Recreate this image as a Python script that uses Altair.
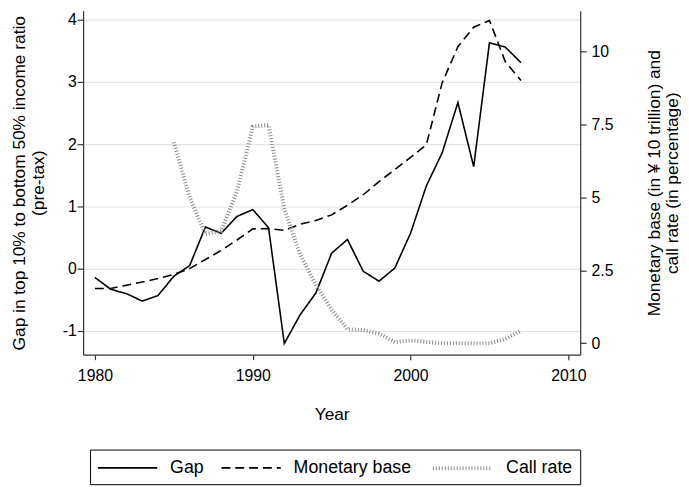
import altair as alt
import pandas as pd

years = list(range(1980, 2008))
gap = [-0.14, -0.33, -0.40, -0.52, -0.43, -0.12, 0.05, 0.67, 0.57, 0.84,
       0.95, 0.66, -1.20, -0.74, -0.39, 0.25, 0.47, -0.04, -0.20, 0.01,
       0.57, 1.33, 1.86, 2.67, 1.64, 3.63, 3.56, 3.31]
monetary_base = [1.88, 1.88, 1.99, 2.10, 2.22, 2.36, 2.56, 2.87, 3.18, 3.54,
                 3.92, 3.93, 3.87, 4.08, 4.21, 4.40, 4.73, 5.09, 5.54, 5.95,
                 6.37, 6.80, 8.92, 10.16, 10.83, 11.06, 9.65, 9.00]
call_rate = [None, None, None, None, None, 6.89, 5.00, 3.74, 3.85, 5.20,
             7.42, 7.48, 4.60, 3.05, 2.00, 1.15, 0.48, 0.45, 0.33, 0.04,
             0.10, 0.05, 0.00, 0.00, 0.00, 0.00, 0.15, 0.43]

series_order = ["Gap", "Monetary base", "Call rate"]
x_ticks = [1980, 1990, 2000, 2010]
left_ticks = [-1, 0, 1, 2, 3, 4]
right_ticks = [0, 2.5, 5, 7.5, 10]

rows = []
for i, yr in enumerate(years):
    rows.append({"year": yr, "series": "Gap", "value": gap[i]})
    rows.append({"year": yr, "series": "Monetary base", "value": monetary_base[i]})
    if call_rate[i] is not None:
        rows.append({"year": yr, "series": "Call rate", "value": call_rate[i]})
df = pd.DataFrame(rows)

FONT = "Liberation Sans"

legend = alt.Legend(
    title=None, orient="none", direction="horizontal",
    legendX=7, legendY=444,
    symbolType="M-1,0H5", symbolSize=400,
    labelFontSize=18, labelFont=FONT, labelColor="black",
    labelOffset=52, columnPadding=13, padding=7,
    strokeColor="black", fillColor="white",
)

color = alt.Color("series:N", scale=alt.Scale(domain=series_order,
                  range=["#000000", "#000000", "#8a8a8a"]), legend=legend)
dash = alt.StrokeDash("series:N", scale=alt.Scale(domain=series_order,
                      range=[[1, 0], [9, 5], [1, 2]]), legend=legend)
width = alt.StrokeWidth("series:N", scale=alt.Scale(type="ordinal", domain=series_order,
                        range=[1.6, 1.6, 4]), legend=legend)

x_enc = alt.X("year:Q", scale=alt.Scale(domain=[1979.25, 2010.75], nice=False, zero=False),
              axis=alt.Axis(values=x_ticks, format="d", grid=False, tickSize=5, labelPadding=8,
                            title="Year", titleX=251.5, titleY=66, titleBaseline="alphabetic",
                            titleFontSize=17.5))

base = alt.Chart(df)

left = base.transform_filter(alt.datum.series == "Gap").mark_line().encode(
    x=x_enc,
    y=alt.Y("value:Q", scale=alt.Scale(domain=[-1.381, 4.143], nice=False, zero=False),
            axis=alt.Axis(orient="left", values=left_ticks, labelExpr="'' + datum.value",
                          grid=True, gridColor="#e3e3e3",
                          gridWidth=1.2, tickSize=6, labelPadding=1,
                          title=["Gap in top 10% to bottom 50% income ratio", "(pre-tax)"],
                          titleX=-73, titleY=174, titleAngle=270, titleAlign="center",
                          titleBaseline="top", titleLineHeight=19, titleFontSize=17.5)),
    color=color, strokeDash=dash, strokeWidth=width,
)

right = base.transform_filter(alt.datum.series != "Gap").mark_line().encode(
    x=x_enc,
    y=alt.Y("value:Q", scale=alt.Scale(domain=[-0.39, 11.39], nice=False, zero=False),
            axis=alt.Axis(orient="right", values=right_ticks, labelExpr="'' + datum.value",
                          grid=False, tickSize=6, labelPadding=5,
                          title=["Monetary base (in \u00a5 10 trillion) and", "call rate (in percentage)"],
                          titleX=66, titleY=174, titleAngle=270, titleAlign="center",
                          titleBaseline="top", titleLineHeight=18.5, titleFontSize=17.5)),
    color=color, strokeDash=dash, strokeWidth=width,
    order="year:Q",
)

chart = alt.layer(left, right).resolve_scale(y="independent").properties(
    width=503, height=348,
    autosize=alt.AutoSizeParams(type="none"),
    padding={"left": 76, "top": 0, "right": 102, "bottom": 130},
).configure_view(strokeWidth=0).configure_axis(
    labelFont=FONT, titleFont=FONT, labelFontSize=16, labelColor="black",
    titleColor="black", titleFontWeight="normal", domainColor="#333333",
    tickColor="#333333", domainWidth=1.2, tickWidth=1.2,
)

chart.save("out.html", embed_options={"renderer": "svg", "actions": False})
